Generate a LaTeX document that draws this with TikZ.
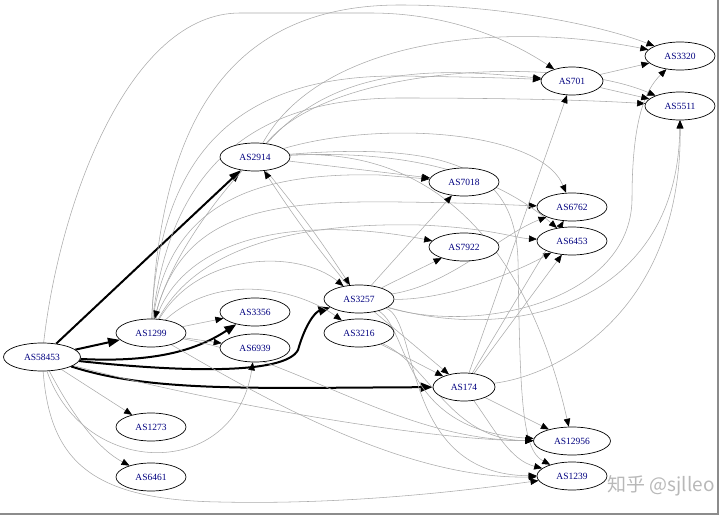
\documentclass[tikz,border=0pt]{standalone}
\usepackage{fontspec}
\setmainfont{Liberation Serif}
\newfontfamily\cjkfont{Noto Sans CJK SC}
\usetikzlibrary{shapes.geometric,arrows.meta}
\definecolor{labelblue}{rgb}{0,0,0.5}
\pgfdeclarelayer{bg}
\pgfsetlayers{bg,main}
\begin{document}
\begin{tikzpicture}[x=1pt,y=-1pt,
  asn/.style={ellipse, draw=black, line width=0.7pt, fill=white, inner sep=0pt,
    minimum height=28pt, minimum width=70pt, font=\fontsize{9.5}{11}\selectfont, text=labelblue},
  wfive/.style={minimum width=77pt},
  wthree/.style={minimum width=62pt},
  ed/.style={draw=black!33, line width=0.55pt, -{Triangle[length=8pt,width=6.5pt,color=black]}},
  thk/.style={draw=black, line width=2pt, -{Triangle[length=12pt,width=9pt]}},
  frame/.style={draw=black!45, line width=1.4pt}]
\useasboundingbox (0,0) rectangle (720,516);

% nodes
\node[asn,wfive] (n58453) at (42,357) {AS58453};
\node[asn] (n1299) at (151,333) {AS1299};
\node[asn] (n3356) at (255,312) {AS3356};
\node[asn] (n6939) at (255,348) {AS6939};
\node[asn] (n1273) at (151,427) {AS1273};
\node[asn] (n6461) at (151,477) {AS6461};
\node[asn] (n2914) at (255,157) {AS2914};
\node[asn] (n7018) at (464,182) {AS7018};
\node[asn] (n7922) at (464,247) {AS7922};
\node[asn] (n3257) at (359,299) {AS3257};
\node[asn] (n3216) at (359,333) {AS3216};
\node[asn,wthree] (n174) at (464,387) {AS174};
\node[asn,wfive] (n12956) at (572,441) {AS12956};
\node[asn] (n1239) at (572,476) {AS1239};
\node[asn,wthree] (n701) at (572,81) {AS701};
\node[asn] (n3320) at (680,56) {AS3320};
\node[asn] (n5511) at (680,106) {AS5511};
\node[asn] (n6762) at (572,207) {AS6762};
\node[asn] (n6453) at (572,241) {AS6453};

\begin{pgfonlayer}{bg}
% thick edges from AS58453
\draw[thk] (n58453) -- (n2914);
\draw[thk] (n58453) -- (n1299);
\draw[thk] (n58453) .. controls (160,363) and (200,348) .. (n3356);
\draw[thk] (n58453) .. controls (180,372) and (285,375) .. (298,350) .. controls (305,325) and (315,312) .. (n3257);
\draw[thk] (n58453) .. controls (150,392) and (250,388) .. (n174);

% thin edges from AS58453
\draw[ed] (n58453) -- (n1273);
\draw[ed] (n58453) .. controls (75,420) and (100,450) .. (n6461);
\draw[ed] (n58453) .. controls (85,480) and (235,480) .. (n6939);
\draw[ed] (n58453) .. controls (200,400) and (420,440) .. (n12956);
\draw[ed] (n58453) .. controls (50,460) and (90,500) .. (220,502) .. controls (350,505) and (470,490) .. (n1239);
\draw[ed] (n58453) .. controls (60,200) and (130,13) .. (240,13) -- (370,13) .. controls (450,13) and (510,40) .. (n701);

% edges from AS1299
\draw[ed] (n1299) -- (n3356);
\draw[ed] (n1299) -- (n6939);
\draw[ed] (n1299) .. controls (200,250) and (300,250) .. (n3257);
\draw[ed] (n1299) .. controls (220,270) and (300,290) .. (n3216);
\draw[ed] (n1299) .. controls (170,200) and (260,172) .. (380,175) -- (n7018);
\draw[ed] (n1299) .. controls (185,235) and (300,215) .. (n7922);
\draw[ed] (n1299) .. controls (180,215) and (260,200) .. (400,202) .. controls (480,203) and (510,205) .. (n6762);
\draw[ed] (n1299) .. controls (195,250) and (290,222) .. (420,225) .. controls (490,228) and (515,238) .. (n6453);
\draw[ed] (n1299) .. controls (160,150) and (240,75) .. (400,76) .. controls (470,77) and (510,78) .. (n701);
\draw[ed] (n1299) .. controls (160,150) and (210,5) .. (400,5) .. controls (500,5) and (600,25) .. (n3320);
\draw[ed] (n1299) .. controls (170,170) and (250,98) .. (400,98) .. controls (500,98) and (590,100) .. (n5511);
\draw[ed] (n1299) .. controls (300,360) and (400,440) .. (n12956);
\draw[ed] (n1299) .. controls (250,390) and (400,480) .. (n1239);

% edges from AS2914
\draw[ed] (n2914) -- (n7018);
\draw[ed] (n2914) to[bend left=3] (n3257);
\draw[ed] (n3257) to[bend left=3] (n2914);
\draw[ed] (n2914) .. controls (340,60) and (450,70) .. (n701);
\draw[ed] (n2914) .. controls (320,40) and (500,20) .. (n3320);
\draw[ed] (n2914) .. controls (330,65) and (560,55) .. (n5511);
\draw[ed] (n2914) .. controls (380,120) and (540,130) .. (n6762);
\draw[ed] (n2914) .. controls (400,150) and (490,170) .. (n6453);
\draw[ed] (n2914) .. controls (470,145) and (540,300) .. (n12956);
\draw[ed] (n2914) .. controls (470,140) and (515,180) .. (518,260) .. controls (520,400) and (522,450) .. (n1239);
\draw[ed] (n2914) .. controls (215,200) and (170,260) .. (n1299);

% edges from AS3257
\draw[ed] (n3257) -- (n7018);
\draw[ed] (n3257) -- (n7922);
\draw[ed] (n3257) .. controls (450,285) and (500,235) .. (n6762);
\draw[ed] (n3257) .. controls (450,300) and (520,270) .. (n6453);
\draw[ed] (n3257) .. controls (480,335) and (630,300) .. (632,200) .. controls (632,120) and (645,90) .. (n3320);
\draw[ed] (n3257) .. controls (520,345) and (678,300) .. (n5511);
\draw[ed] (n3257) -- (n174);
\draw[ed] (n3257) .. controls (410,330) and (400,430) .. (n12956);
\draw[ed] (n3257) .. controls (420,320) and (400,475) .. (n1239);

% edges from AS3216
\draw[ed] (n3216) -- (n174);
\draw[ed] (n3216) .. controls (430,365) and (450,440) .. (n12956);

% edges from AS174
\draw[ed] (n174) -- (n701);
\draw[ed] (n174) -- (n6762);
\draw[ed] (n174) -- (n6453);
\draw[ed] (n174) .. controls (560,375) and (682,310) .. (n5511);
\draw[ed] (n174) -- (n12956);
\draw[ed] (n174) .. controls (495,430) and (510,460) .. (n1239);

% edges from AS701
\draw[ed] (n701) -- (n3320);
\draw[ed] (n701) -- (n5511);
\end{pgfonlayer}

% watermark
\node[font=\cjkfont\fontsize{19}{19}\selectfont, text=black!28, anchor=west] (wm) at (604,486) {知乎 @sjlleo};

% screenshot frame
\draw[frame] (0,514) -- (718,514) -- (718,0);
\end{tikzpicture}
\end{document}
